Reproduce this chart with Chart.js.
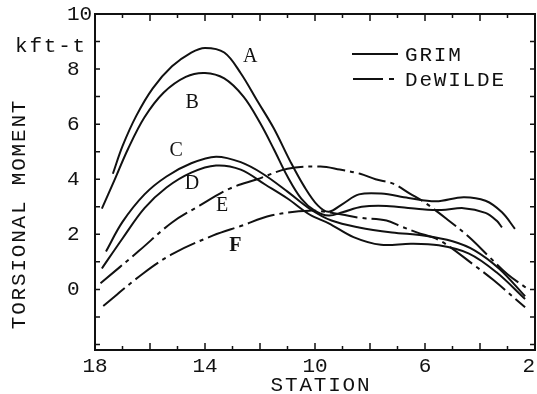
<!DOCTYPE html>
<html>
<head>
<meta charset="utf-8">
<script src="https://cdn.jsdelivr.net/npm/chart.js@4.4.0/dist/chart.umd.min.js"></script>
<style>
  body { margin: 0; background: #fff; }
</style>
</head>
<body>
<canvas id="torsion-chart" width="537" height="394"></canvas>
<script>
var MONO = '"Liberation Mono", "DejaVu Sans Mono", monospace';
var SERIF = '"Liberation Serif", "DejaVu Serif", serif';
var INK = '#111';

// values: station number and torsional moment (kft-t)
// GRIM curves A-D
var stationA = [17.35, 17.0, 16.5, 15.9, 15.2, 14.5, 14.0, 13.3, 12.7, 12.1, 11.5, 10.9, 10.4, 9.9, 9.5, 9.0, 8.4, 7.6, 6.6, 5.6, 4.6, 3.8, 3.2, 2.73];
var momentA  = [4.2, 5.2, 6.3, 7.3, 8.1, 8.6, 8.77, 8.6, 7.85, 6.85, 5.85, 4.65, 3.75, 3.05, 2.82, 3.1, 3.45, 3.48, 3.32, 3.2, 3.35, 3.22, 2.8, 2.2];

var stationB = [17.75, 17.3, 16.8, 16.2, 15.5, 14.7, 14.0, 13.3, 12.6, 12.0, 11.5, 11.0, 10.5, 10.0, 9.5, 9.0, 8.3, 7.4, 6.3, 5.4, 4.6, 3.8, 3.4, 3.2];
var momentB  = [2.93, 3.95, 5.1, 6.25, 7.15, 7.72, 7.86, 7.66, 7.0, 6.05, 5.1, 4.1, 3.3, 2.85, 2.68, 2.8, 3.0, 3.03, 2.93, 2.88, 2.95, 2.78, 2.5, 2.25];

var stationC = [17.6, 17.0, 16.2, 15.4, 14.5, 13.6, 12.7, 11.9, 11.0, 10.2, 9.4, 8.4, 7.2, 6.0, 5.0, 4.2, 3.3, 2.36];
var momentC  = [1.38, 2.45, 3.45, 4.1, 4.58, 4.82, 4.62, 4.2, 3.55, 2.93, 2.5, 2.25, 2.07, 1.95, 1.75, 1.42, 0.75, -0.25];

var stationD = [17.75, 17.0, 16.2, 15.4, 14.5, 13.6, 12.7, 11.8, 11.0, 10.2, 9.5, 8.6, 7.6, 6.5, 5.5, 4.4, 3.4, 2.36];
var momentD  = [0.76, 1.85, 2.95, 3.7, 4.24, 4.5, 4.35, 3.8, 3.3, 2.72, 2.4, 1.9, 1.62, 1.66, 1.6, 1.3, 0.62, -0.35];

// DeWILDE curves E-F
var stationE = [17.8, 16.4, 15.2, 14.2, 13.1, 12.1, 11.0, 9.8, 9.1, 8.36, 7.8, 7.16, 6.55, 6.0, 5.2, 4.4, 3.64, 3.0, 2.3];
var momentE  = [0.22, 1.4, 2.43, 3.04, 3.66, 4.0, 4.38, 4.46, 4.35, 4.2, 4.0, 3.84, 3.48, 3.15, 2.55, 1.9, 1.16, 0.55, 0.04];

var stationF = [17.7, 16.25, 15.16, 13.7, 12.7, 11.6, 10.2, 9.2, 8.36, 7.4, 6.9, 6.3, 5.45, 4.2, 3.5, 2.36];
var momentF  = [-0.6, 0.58, 1.3, 1.96, 2.3, 2.68, 2.86, 2.75, 2.6, 2.5, 2.3, 2.07, 1.77, 0.87, 0.33, -0.65];

var xTicks = [18, 14, 10, 6, 2];
var yTicks = [0, 2, 4, 6, 8, 10];
var seriesNames = ['GRIM', 'DeWILDE'];

var DASH_DOT = [28, 5, 4, 5];

function pts(xs, ys) {
  return xs.map(function (x, i) { return { x: x, y: ys[i] }; });
}

function curve(label, xs, ys, dashed) {
  return {
    label: label,
    data: pts(xs, ys),
    borderColor: INK,
    borderWidth: 2,
    borderDash: dashed ? DASH_DOT : [],
    pointRadius: 0,
    fill: false,
    tension: 0.35
  };
}

function spaced(ctx, font, spacing) {
  ctx.font = font;
  if ('letterSpacing' in ctx) ctx.letterSpacing = spacing + 'px';
}

// frame with inward ticks, legend, axis titles and curve letters
var decorations = {
  id: 'decorations',
  afterDraw: function (chart) {
    var ctx = chart.ctx, area = chart.chartArea;
    var xs = chart.scales.x, ys = chart.scales.y;
    ctx.save();
    ctx.strokeStyle = INK;
    ctx.fillStyle = INK;

    ctx.lineWidth = 2;
    ctx.strokeRect(area.left, area.top, area.right - area.left, area.bottom - area.top);

    ctx.lineWidth = 1.5;
    ctx.beginPath();
    for (var s = 2; s <= 18; s++) {
      var px = xs.getPixelForValue(s);
      var len = s % 2 === 0 ? 7 : 4;
      ctx.moveTo(px, area.bottom); ctx.lineTo(px, area.bottom - len);
      ctx.moveTo(px, area.top); ctx.lineTo(px, area.top + len);
    }
    for (var v = -2; v <= 10; v++) {
      var py = ys.getPixelForValue(v);
      ctx.moveTo(area.left, py); ctx.lineTo(area.left + 5, py);
      ctx.moveTo(area.right, py); ctx.lineTo(area.right - 5, py);
    }
    ctx.stroke();

    // legend
    ctx.lineWidth = 2;
    ctx.beginPath();
    ctx.moveTo(352, 54); ctx.lineTo(398, 54);
    ctx.stroke();
    ctx.setLineDash([30, 6, 5, 6]);
    ctx.beginPath();
    ctx.moveTo(353, 79); ctx.lineTo(398, 79);
    ctx.stroke();
    ctx.setLineDash([]);

    spaced(ctx, '21px ' + MONO, 1.8);
    ctx.textBaseline = 'middle';
    ctx.textAlign = 'left';
    ctx.fillText(seriesNames[0], 405, 55);
    ctx.fillText(seriesNames[1], 405, 80);

    // unit and axis titles
    ctx.textAlign = 'right';
    ctx.fillText('kft-t', 87, 46);
    ctx.textAlign = 'center';
    ctx.fillText('STATION', (area.left + area.right) / 2 + 6, 385);
    ctx.save();
    ctx.translate(19, 214);
    ctx.rotate(-Math.PI / 2);
    ctx.fillText('TORSIONAL MOMENT', 0, 0);
    ctx.restore();

    // curve letters
    spaced(ctx, '20px ' + SERIF, 0);
    var letters = [['A', 12.36, 8.44], ['B', 14.47, 6.78], ['C', 15.05, 5.04],
                   ['D', 14.47, 3.84], ['E', 13.38, 3.04], ['F', 12.9, 1.6]];
    letters.forEach(function (l) {
      ctx.font = (l[0] === 'F' ? 'bold ' : '') + '20px ' + SERIF;
      ctx.fillText(l[0], xs.getPixelForValue(l[1]), ys.getPixelForValue(l[2]));
    });
    ctx.restore();
  }
};

function torsionChart() {
  var canvas = document.getElementById('torsion-chart');
  new Chart(canvas, {
    type: 'line',
    data: {
      datasets: [
        curve('A', stationA, momentA, false),
        curve('B', stationB, momentB, false),
        curve('C', stationC, momentC, false),
        curve('D', stationD, momentD, false),
        curve('E', stationE, momentE, true),
        curve('F', stationF, momentF, true)
      ]
    },
    options: {
      responsive: false,
      animation: false,
      devicePixelRatio: 1,
      layout: { padding: { top: 14, right: 2, left: 67, bottom: 0 } },
      plugins: { legend: { display: false }, tooltip: { enabled: false } },
      scales: {
        x: {
          type: 'linear',
          reverse: true,
          min: 2,
          max: 18,
          grid: { display: false, drawTicks: false },
          border: { display: false },
          afterBuildTicks: function (s) { s.ticks = xTicks.map(function (v) { return { value: v }; }); },
          afterFit: function (s) { s.height = 44; s.paddingLeft = 0; s.paddingRight = 0; },
          ticks: {
            font: { family: MONO, size: 21 }, color: INK, padding: 4, maxRotation: 0, autoSkip: false,
            // last label sits against the right edge, as in the original
            callback: function (v) { return v === 2 ? '2 ' : String(v); }
          }
        },
        y: {
          type: 'linear',
          min: -2.2,
          max: 10,
          grid: { display: false, drawTicks: false },
          border: { display: false },
          afterBuildTicks: function (s) { s.ticks = yTicks.map(function (v) { return { value: v }; }); },
          afterFit: function (s) { s.width = 28; s.paddingTop = 0; s.paddingBottom = 0; },
          ticks: { font: { family: MONO, size: 21 }, color: INK, padding: 3, crossAlign: 'far' }
        }
      }
    },
    plugins: [decorations]
  });
}

torsionChart();
</script>
</body>
</html>
